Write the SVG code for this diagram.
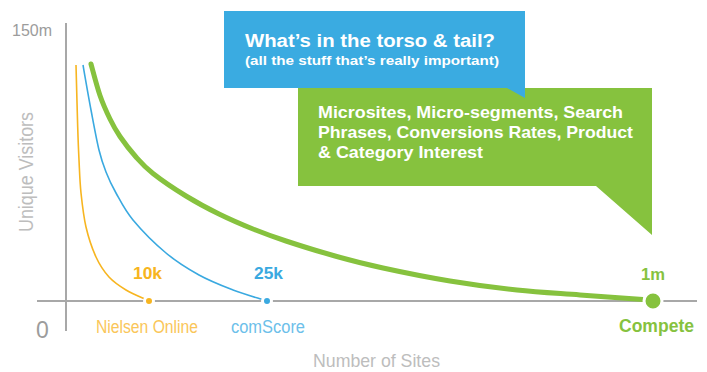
<svg xmlns="http://www.w3.org/2000/svg" width="707" height="372" viewBox="0 0 707 372">
<style>
.ax{stroke:#A8A8A8;stroke-width:2;fill:none}
.cond{font-family:"Liberation Sans Narrow","Liberation Sans",Arial,sans-serif}
.bold{font-family:"Liberation Sans",Arial,sans-serif;font-weight:bold}
.gray{fill:#9C9C9C}
.lgray{fill:#BDBDBD}
.w{fill:#FFFFFF}
</style>
<rect width="707" height="372" fill="#FFFFFF"/>
<g id="axes">
<line class="ax" x1="66" y1="23" x2="66" y2="331"/>
<line class="ax" x1="37" y1="301" x2="697" y2="301"/>
<text class="cond gray" x="12" y="36" font-size="17" textLength="40" lengthAdjust="spacingAndGlyphs">150m</text>
<text class="cond gray" x="36" y="338" font-size="23">0</text>
<text class="cond lgray" transform="translate(33,232) rotate(-90)" font-size="20" textLength="120" lengthAdjust="spacingAndGlyphs">Unique Visitors</text>
<text class="cond lgray" x="313" y="367" font-size="19" textLength="127" lengthAdjust="spacingAndGlyphs">Number of Sites</text>
</g>
<g id="connectors">
<path d="M76,65 C76.3,75.3 77.2,111.2 77.7,127 C78.2,142.8 78.45,149 79,160 C79.55,171 79.8,181.8 81,193 C82.2,204.2 83.5,216.3 86,227 C88.5,237.7 92.2,248.7 96,257 C99.8,265.3 104,271.5 109,277 C114,282.5 120,286.3 126,290 C132,293.7 141.8,297.5 145,299" fill="none" stroke="#F7B520" stroke-width="1.6"/>
<path d="M83,65 C84.3,72.5 88.3,95.8 91,110 C93.7,124.2 96.5,139.7 99,150 C101.5,160.3 103.2,164.8 106,172 C108.8,179.2 111.5,185 116,193 C120.5,201 124.7,210 133,220 C141.3,230 155,243.8 166,253 C177,262.2 187.8,268.8 199,275 C210.2,281.2 222.2,285.8 233,290 C243.8,294.2 258.8,298.3 264,300" fill="none" stroke="#3AA9E0" stroke-width="1.6"/>
<path d="M91,64 C92.5,69.3 96.8,86.3 100,95.5 C103.2,104.7 106.7,112.2 110,119 C113.3,125.8 115.7,130.2 120,136.5 C124.3,142.8 130.5,150.8 136,157 C141.5,163.2 144.7,167 153,173.5 C161.3,180 175,189.3 186,196 C197,202.75 207.8,208.5 219,214 C230.2,219.5 241.8,224.5 253,229 C264.2,233.5 272.3,236.5 286,241 C299.7,245.5 318.8,251.5 335,256 C351.2,260.5 363.8,263.8 383,268 C402.2,272.2 427.7,277.3 450,281 C472.3,284.7 495.3,287.7 517,290 C538.7,292.3 557.8,293.3 580,295 C602.2,296.7 638.3,299.2 650,300" fill="none" stroke="#86C23E" stroke-width="5" stroke-linecap="round"/>
</g>
<g id="nielsen">
<circle cx="149" cy="301" r="4.5" fill="#F7B520" stroke="#FFFFFF" stroke-width="3"/>
<text class="cond" x="133" y="279" font-size="17" font-weight="bold" fill="#F7B520" textLength="29" lengthAdjust="spacingAndGlyphs">10k</text>
<text class="cond" x="96" y="333" font-size="18" fill="#FAC659" textLength="102" lengthAdjust="spacingAndGlyphs">Nielsen Online</text>
</g>
<g id="comscore">
<circle cx="267" cy="301" r="4.5" fill="#3AA9E0" stroke="#FFFFFF" stroke-width="3"/>
<text class="cond" x="254" y="279" font-size="17" font-weight="bold" fill="#3AA9E0" textLength="29" lengthAdjust="spacingAndGlyphs">25k</text>
<text class="cond" x="231" y="333" font-size="18" fill="#6CC0EA" textLength="74" lengthAdjust="spacingAndGlyphs">comScore</text>
</g>
<g id="compete">
<circle cx="653" cy="301" r="9" fill="#86C23E" stroke="#FFFFFF" stroke-width="3"/>
<text class="cond" x="641" y="280" font-size="17" font-weight="bold" fill="#86C23E" textLength="24" lengthAdjust="spacingAndGlyphs">1m</text>
<text class="cond" x="619" y="332" font-size="19" font-weight="bold" fill="#86C23E" textLength="75" lengthAdjust="spacingAndGlyphs">Compete</text>
</g>
<g id="green-callout">
<polygon points="298,88 652,88 652,235 596,186 298,186" fill="#86C23E"/>
<text class="bold w" x="318" y="118" font-size="16.5" textLength="305" lengthAdjust="spacingAndGlyphs">Microsites, Micro-segments, Search</text>
<text class="bold w" x="318" y="138" font-size="16.5" textLength="315" lengthAdjust="spacingAndGlyphs">Phrases, Conversions Rates, Product</text>
<text class="bold w" x="318" y="158" font-size="16.5" textLength="165" lengthAdjust="spacingAndGlyphs">&amp; Category Interest</text>
</g>
<g id="blue-callout">
<polygon points="224,11 525,11 525,98 507,88 224,88" fill="#3AABE1"/>
<text class="bold w" x="245" y="47" font-size="18" textLength="250" lengthAdjust="spacingAndGlyphs">What’s in the torso &amp; tail?</text>
<text class="bold w" x="245" y="65" font-size="12.5" textLength="254" lengthAdjust="spacingAndGlyphs">(all the stuff that’s really important)</text>
</g>
</svg>
